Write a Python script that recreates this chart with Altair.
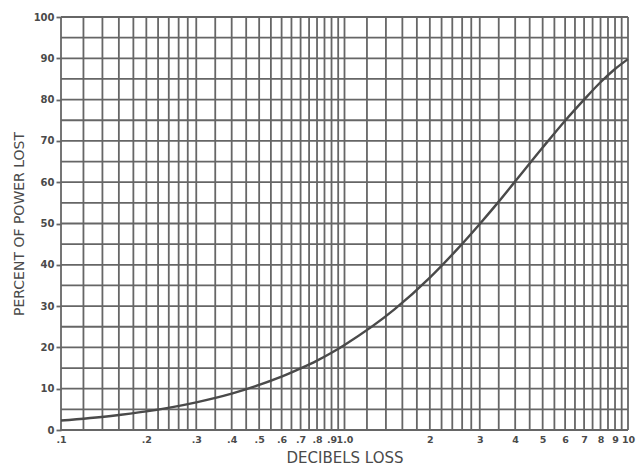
import altair as alt
import pandas as pd

# Curve
db_loss = [0.1, 0.15, 0.2, 0.3, 0.4, 0.5, 0.6, 0.7, 0.8, 0.9, 1.0, 1.5, 2, 2.5, 3, 3.5, 4, 5, 6, 7, 8, 9, 10]
pct_lost = [2.3, 3.4, 4.5, 6.7, 8.8, 10.9, 12.9, 14.9, 16.8, 18.7, 20.6, 29.2, 36.9, 43.8, 49.9, 55.3, 60.2, 68.4, 74.9, 80.0, 84.2, 87.4, 89.8]

# Tick labels
x_ticks = [0.1, 0.2, 0.3, 0.4, 0.5, 0.6, 0.7, 0.8, 0.9, 1.0, 2, 3, 4, 5, 6, 7, 8, 9, 10]
x_labels = [".1", ".2", ".3", ".4", ".5", ".6", ".7", ".8", ".9", "1.0", "2", "3", "4", "5", "6", "7", "8", "9", "10"]
y_ticks = [0, 10, 20, 30, 40, 50, 60, 70, 80, 90, 100]

# Grid lines of the log paper
x_grid = [0.1, 0.12, 0.14, 0.16, 0.18, 0.2, 0.22, 0.24, 0.26, 0.28,
          0.3, 0.35, 0.4, 0.45, 0.5, 0.55, 0.6, 0.65, 0.7, 0.75, 0.8, 0.85, 0.9, 0.95,
          1.0, 1.2, 1.4, 1.6, 1.8, 2.0, 2.2, 2.4, 2.6, 2.8,
          3.0, 3.5, 4.0, 4.5, 5.0, 5.5, 6.0, 6.5, 7.0, 7.5, 8.0, 8.5, 9.0, 9.5, 10.0]
y_grid = [0, 5, 10, 15, 20, 25, 30, 35, 40, 45, 50, 55, 60, 65, 70, 75, 80, 85, 90, 95, 100]

expr = "{" + ",".join(f"'{v:g}':'{l}'" for v, l in zip(x_ticks, x_labels)) + "}"
label_expr = f"{expr}[toString(datum.value)]"

curve = pd.DataFrame({"db": db_loss, "pct": pct_lost})
vgrid = pd.DataFrame({"db": x_grid})
hgrid = pd.DataFrame({"pct": y_grid})

GRID = "#666666"
INK = "#4a4a4a"
LABEL_FONT = "DejaVu Sans"

xscale = alt.Scale(type="log", domain=[0.1, 10], nice=False)
yscale = alt.Scale(domain=[0, 100], nice=False)

x_axis = alt.Axis(
    values=x_ticks,
    labelExpr=label_expr,
    title="DECIBELS LOSS",
    grid=False,
    domain=False,
    ticks=False,
    labelPadding=4,
    labelFont=LABEL_FONT,
    labelFontWeight="bold",
    labelFontSize=9.5,
    labelColor=INK,
    labelFlush=False,
    labelOverlap=False,
    titleFont="DejaVu Sans",
    titleFontSize=15,
    titleFontWeight="normal",
    titleColor=INK,
    titlePadding=7,
)
y_axis = alt.Axis(
    values=y_ticks,
    title="PERCENT OF POWER LOST",
    grid=False,
    domain=False,
    ticks=True,
    tickSize=5,
    tickColor=GRID,
    tickWidth=1.8,
    labelPadding=2,
    labelFont=LABEL_FONT,
    labelFontWeight="bold",
    labelFontSize=10,
    labelColor=INK,
    titleFont="DejaVu Sans",
    titleFontSize=14,
    titleFontWeight="normal",
    titleColor=INK,
    titlePadding=7,
)

vlines = alt.Chart(vgrid).mark_rule(color=GRID, strokeWidth=1.8).encode(
    x=alt.X("db:Q", scale=xscale, axis=x_axis)
)
hlines = alt.Chart(hgrid).mark_rule(color=GRID, strokeWidth=1.8).encode(
    y=alt.Y("pct:Q", scale=yscale, axis=y_axis)
)
line = alt.Chart(curve).mark_line(color=INK, strokeWidth=2.4, interpolate="monotone").encode(
    x=alt.X("db:Q", scale=xscale, axis=x_axis),
    y=alt.Y("pct:Q", scale=yscale, axis=y_axis),
)

chart = alt.layer(vlines, hlines, line).properties(
    width=567,
    height=413,
    padding={"left": 53, "top": 9, "right": 8, "bottom": 37},
    autosize="none",
    background="white",
).configure_view(stroke=None)

chart.save("out.html", embed_options={"renderer": "svg", "actions": False})
